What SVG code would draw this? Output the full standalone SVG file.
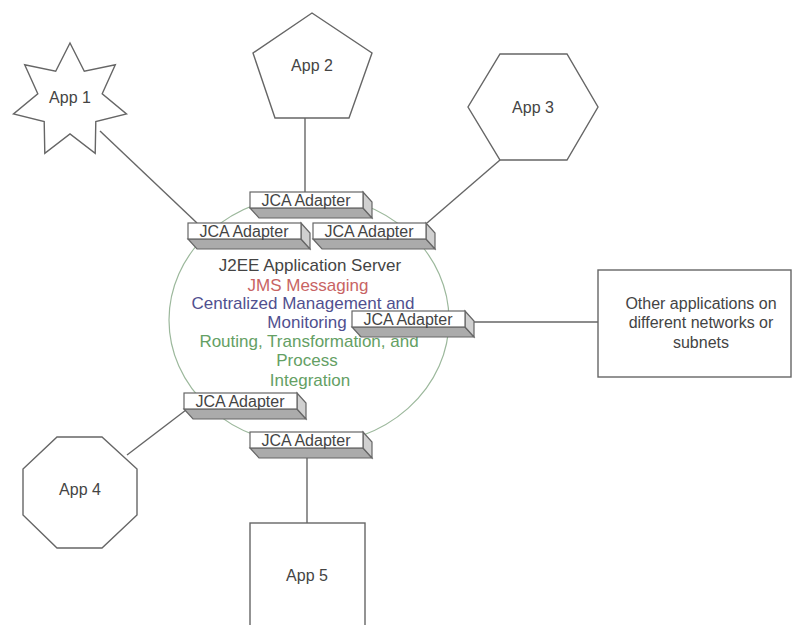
<svg xmlns="http://www.w3.org/2000/svg" xmlns:xlink="http://www.w3.org/1999/xlink" width="795" height="625" viewBox="0 0 795 625">
  <style>
    .shape { fill: #ffffff; stroke: #666666; stroke-width: 1.4; }
    .wire { stroke: #666666; stroke-width: 1.4; fill: none; }
    .label { font-family: "Liberation Sans", Arial, sans-serif; font-size: 16px; fill: #444444; text-anchor: middle; }
    .adapter-label { font-family: "Liberation Sans", Arial, sans-serif; font-size: 16px; fill: #444444; text-anchor: middle; }
    .server { font-family: "Liberation Sans", Arial, sans-serif; font-size: 17px; text-anchor: middle; }
    .face-front { fill: #ffffff; stroke: #666666; stroke-width: 1.2; }
    .face-bottom { fill: #ababab; stroke: #666666; stroke-width: 1.2; }
    .face-side { fill: #d0d0d0; stroke: #666666; stroke-width: 1.2; }
  </style>
  <defs>
    <!-- extruded adapter block: front face with depth towards lower right -->
    <g id="adapter-box">
      <polygon class="face-bottom" points="0,16 113,16 122,26 9,26"/>
      <polygon class="face-side" points="113,0 122,10 122,26 113,16"/>
      <rect class="face-front" x="0" y="0" width="113" height="16"/>
    </g>
  </defs>

  <rect x="0" y="0" width="795" height="625" fill="#ffffff"/>

  <!-- application server ring -->
  <g id="server">
    <ellipse cx="309" cy="320" rx="140" ry="125" fill="none" stroke="#9cb89c" stroke-width="1.2"/>
    <text class="server" x="310" y="271" fill="#444444">J2EE Application Server</text>
    <text class="server" x="308" y="291" fill="#c86464">JMS Messaging</text>
    <text class="server" x="303" y="309" fill="#50508f">Centralized Management and</text>
    <text class="server" x="307" y="328" fill="#50508f">Monitoring</text>
    <text class="server" x="309" y="347" fill="#64a064">Routing, Transformation, and</text>
    <text class="server" x="307" y="366" fill="#64a064">Process</text>
    <text class="server" x="310" y="386" fill="#64a064">Integration</text>
  </g>

  <!-- connectors -->
  <g id="connectors">
    <line class="wire" x1="100" y1="131" x2="197" y2="223"/>
    <line class="wire" x1="305" y1="118" x2="305" y2="192"/>
    <line class="wire" x1="500" y1="160" x2="427" y2="223"/>
    <line class="wire" x1="474" y1="322" x2="598" y2="322"/>
    <line class="wire" x1="127" y1="455" x2="186" y2="410"/>
    <line class="wire" x1="307" y1="458" x2="307" y2="523"/>
  </g>

  <!-- applications -->
  <g id="app1">
    <polygon class="shape" points="70,43 84.3,71.3 115.3,64.8 102.2,93.7 126.5,113.9 95.8,121.6 95.2,153.3 70,134 44.8,153.3 44.2,121.6 13.5,113.9 37.8,93.7 24.7,64.8 55.7,71.3"/>
    <text class="label" x="70" y="103">App 1</text>
  </g>
  <g id="app2">
    <polygon class="shape" points="312,13 372,53 349,118 275,118 253,53"/>
    <text class="label" x="312" y="71">App 2</text>
  </g>
  <g id="app3">
    <polygon class="shape" points="500,54 567,54 598,107 567,160 500,160 468,107"/>
    <text class="label" x="533" y="113">App 3</text>
  </g>
  <g id="app4">
    <polygon class="shape" points="57,437 102,437 137,469 137,515 102,548 57,548 23,515 23,469"/>
    <text class="label" x="80" y="495">App 4</text>
  </g>
  <g id="app5">
    <rect class="shape" x="250" y="523" width="115" height="110"/>
    <text class="label" x="307" y="581">App 5</text>
  </g>
  <g id="other-apps">
    <rect class="shape" x="598" y="270" width="193" height="107"/>
    <text class="label" x="701" y="309" font-size="17">Other applications on</text>
    <text class="label" x="701" y="328" font-size="17">different  networks or</text>
    <text class="label" x="701" y="348" font-size="17">subnets</text>
  </g>

  <!-- JCA adapters -->
  <g id="adapter-top" transform="translate(250,192)">
    <use xlink:href="#adapter-box"/>
    <text class="adapter-label" x="56" y="14">JCA Adapter</text>
  </g>
  <g id="adapter-left" transform="translate(188,223)">
    <use xlink:href="#adapter-box"/>
    <text class="adapter-label" x="56" y="14">JCA Adapter</text>
  </g>
  <g id="adapter-upper-right" transform="translate(313,223)">
    <use xlink:href="#adapter-box"/>
    <text class="adapter-label" x="56" y="14">JCA Adapter</text>
  </g>
  <g id="adapter-right" transform="translate(352,311)">
    <use xlink:href="#adapter-box"/>
    <text class="adapter-label" x="56" y="14">JCA Adapter</text>
  </g>
  <g id="adapter-lower-left" transform="translate(184,393)">
    <use xlink:href="#adapter-box"/>
    <text class="adapter-label" x="56" y="14">JCA Adapter</text>
  </g>
  <g id="adapter-bottom" transform="translate(250,432)">
    <use xlink:href="#adapter-box"/>
    <text class="adapter-label" x="56" y="14">JCA Adapter</text>
  </g>
</svg>
